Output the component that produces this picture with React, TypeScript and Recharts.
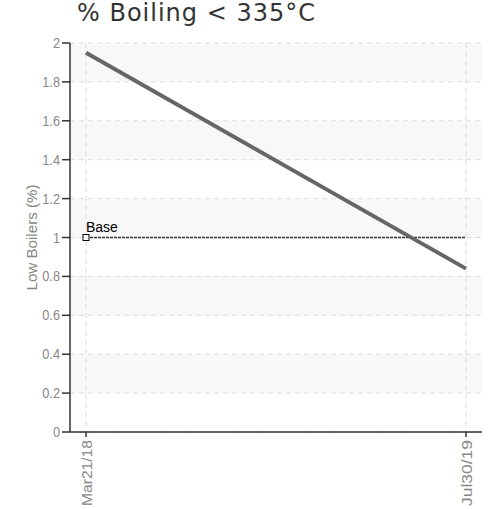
import React from 'react';
import {
  LineChart,
  Line,
  XAxis,
  YAxis,
  CartesianGrid,
} from 'recharts';

const dates = ['Mar21/18', 'Jul30/19'];
const lowBoilers = [1.95, 0.84];
const baseValues = [1, 1];
const yTicks = [0, 0.2, 0.4, 0.6, 0.8, 1, 1.2, 1.4, 1.6, 1.8, 2];
const baseLabel = 'Base';
const title = '% Boiling < 335°C';
const yLabel = 'Low Boilers (%)';

const chartData = dates.map((date, i) => ({
  date,
  lowBoilers: lowBoilers[i],
  base: baseValues[i],
}));

const SANS = '"Liberation Sans", Arial, sans-serif';

function XTick({ x, y, payload }: any) {
  const tx = x + 6;
  const ty = y + 1;
  return (
    <text
      x={tx}
      y={ty}
      transform={`rotate(-90, ${tx}, ${ty})`}
      textAnchor="end"
      fill="#888"
      fontSize={15}
      fontFamily={SANS}
      textLength={66}
      lengthAdjust="spacingAndGlyphs"
    >
      {payload.value}
    </text>
  );
}

function YTick({ x, y, payload }: any) {
  return (
    <text
      transform={`translate(${x}, ${y}) scale(0.85, 1)`}
      dy={5}
      textAnchor="end"
      fill="#888"
      fontSize={15}
      fontFamily={SANS}
    >
      {payload.value}
    </text>
  );
}

function BaseDot({ cx, cy, index }: any) {
  if (index !== 0) return <g key={`base-${index}`} />;
  return (
    <g key={`base-${index}`}>
      <rect x={cx - 3} y={cy - 3} width={6} height={6} fill="#fff" stroke="#000" strokeWidth={1} />
      <text x={cx} y={cy - 6} fill="#000" fontSize={14} fontFamily={SANS}>
        {baseLabel}
      </text>
    </g>
  );
}

function YLabel({ viewBox }: any) {
  const x = viewBox.x + 37;
  const y = viewBox.y + viewBox.height / 2;
  return (
    <text
      x={x}
      y={y}
      transform={`rotate(-90, ${x}, ${y})`}
      textAnchor="middle"
      fill="#888"
      fontSize={15}
      fontFamily={SANS}
      textLength={106}
      lengthAdjust="spacingAndGlyphs"
    >
      {yLabel}
    </text>
  );
}

export default function App() {
  return (
    <div style={{ position: 'absolute', left: 0, top: 0, width: 492, height: 509, background: '#fff' }}>
      <div
        style={{
          position: 'absolute',
          left: 77,
          top: -1,
          fontFamily: '"DejaVu Sans", sans-serif',
          fontSize: 24,
          letterSpacing: 1,
          color: '#333',
          whiteSpace: 'nowrap',
        }}
      >
        {title}
      </div>
      <LineChart
        width={492}
        height={509}
        data={chartData}
        margin={{ top: 43, right: 10, bottom: 7, left: 0 }}
      >
        <CartesianGrid
          stroke="#ddd"
          strokeDasharray="5 4"
          syncWithTicks
          horizontalFill={['#f8f8f8', '#ffffff']}
        />
        <XAxis
          dataKey="date"
          height={70}
          padding={{ left: 16, right: 16 }}
          stroke="#333"
          strokeWidth={1.5}
          tickSize={5}
          tick={<XTick />}
          interval={0}
        />
        <YAxis
          width={70}
          domain={[0, 2]}
          ticks={yTicks}
          stroke="#333"
          strokeWidth={1.5}
          tickSize={8}
          tick={<YTick />}
          label={<YLabel />}
        />
        <Line
          dataKey="base"
          stroke="#333"
          strokeWidth={1.5}
          strokeDasharray="3 1"
          dot={<BaseDot />}
          activeDot={false}
          isAnimationActive={false}
        />
        <Line
          dataKey="lowBoilers"
          stroke="#666"
          strokeWidth={4}
          dot={false}
          activeDot={false}
          isAnimationActive={false}
        />
      </LineChart>
    </div>
  );
}
